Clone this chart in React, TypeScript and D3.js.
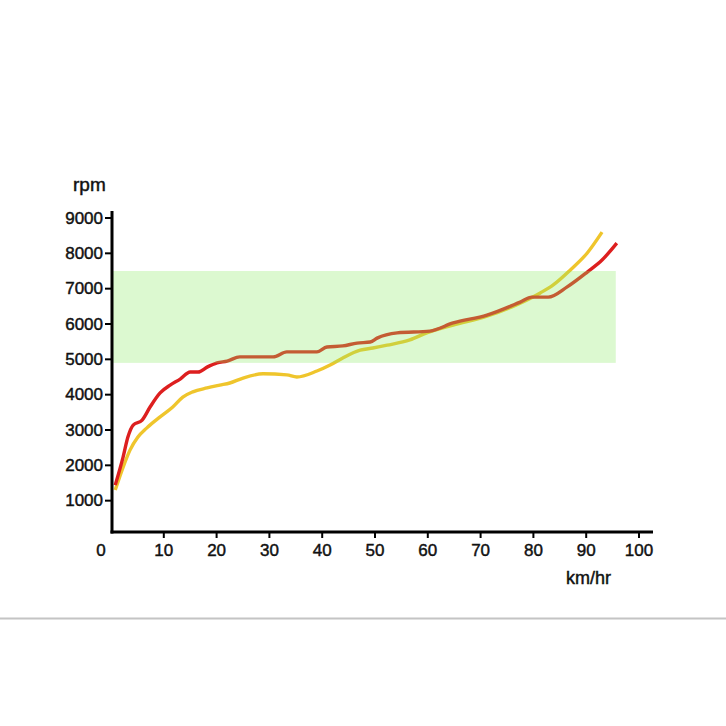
import React from "react";
import * as d3 from "d3";

const xTicks = [0, 10, 20, 30, 40, 50, 60, 70, 80, 90, 100];
const yTicks = [1000, 2000, 3000, 4000, 5000, 6000, 7000, 8000, 9000];

const redSpeed = [0.8, 2.3, 3.2, 4.2, 5.9, 7.4, 9.3, 11.2, 13.1, 15.0, 16.5, 18.2, 20.1, 22.0, 24.4, 30.7, 33.3, 39.0, 40.9, 43.9, 46.6, 49.1, 50.4, 54.2, 60.4, 64.8, 71.2, 77.5, 79.7, 82.8, 86.4, 90.2, 93.0, 95.8];
const redRpm = [1440, 2240, 2800, 3140, 3280, 3650, 4050, 4270, 4440, 4640, 4640, 4780, 4900, 4950, 5070, 5070, 5210, 5210, 5350, 5380, 5460, 5490, 5600, 5750, 5800, 6030, 6250, 6620, 6760, 6760, 7050, 7470, 7810, 8290];

const yellowSpeed = [0.8, 2.3, 3.6, 5.1, 6.8, 9.3, 11.7, 13.6, 15.5, 18.2, 20.6, 22.5, 25.0, 28.8, 33.3, 35.2, 39.0, 41.5, 43.9, 47.2, 49.6, 52.3, 56.6, 59.8, 64.8, 71.2, 77.5, 81.3, 83.7, 87.0, 90.2, 93.0];
const yellowRpm = [1300, 1950, 2430, 2800, 3060, 3370, 3650, 3930, 4080, 4190, 4270, 4330, 4470, 4590, 4560, 4500, 4670, 4840, 5040, 5260, 5320, 5400, 5550, 5750, 5970, 6220, 6590, 6880, 7100, 7530, 8010, 8600];

const bandLow = 4900;
const bandHigh = 7500;
const bandEnd = 95.6;

const font = "'Liberation Sans Narrow', 'Arial Narrow', 'Liberation Sans', sans-serif";

export default function App() {
  const x = d3.scaleLinear().domain([0, 100]).range([111, 639]);
  const y = d3.scaleLinear().domain([0, 9000]).range([536, 218]);
  const line = d3
    .line<[number, number]>()
    .x((d) => x(d[0]))
    .y((d) => y(d[1]))
    .curve(d3.curveMonotoneX);
  const red = redSpeed.map((s, i) => [s, redRpm[i]] as [number, number]);
  const yellow = yellowSpeed.map((s, i) => [s, yellowRpm[i]] as [number, number]);
  const axisY = 532;
  const axisX = 112;
  const textProps = {
    fontFamily: font,
    fill: "#111",
    stroke: "#111",
    strokeWidth: 0.45,
  };

  return (
    <svg
      width={726}
      height={726}
      style={{ position: "absolute", left: 0, top: 0, background: "#fff" }}
    >
      <rect x={0} y={0} width={726} height={726} fill="#fff" />
      <path d={line(yellow) || ""} fill="none" stroke="#efc52c" strokeWidth={3.4} strokeLinejoin="round" />
      <path d={line(red) || ""} fill="none" stroke="#dd1f1f" strokeWidth={3.4} strokeLinejoin="round" />
      <rect
        x={axisX}
        y={y(bandHigh)}
        width={x(bandEnd) - axisX}
        height={y(bandLow) - y(bandHigh)}
        fill="rgb(140,236,100)"
        opacity={0.3}
      />
      {/* y axis */}
      <line x1={axisX} x2={axisX} y1={211} y2={axisY + 1.5} stroke="#000" strokeWidth={3} />
      {yTicks.map((t) => (
        <g key={"y" + t}>
          <line x1={axisX - 7} x2={axisX} y1={y(t)} y2={y(t)} stroke="#000" strokeWidth={2} />
          <text x={103} y={y(t)} textAnchor="end" dominantBaseline="central" fontSize={17} {...textProps}>
            {t}
          </text>
        </g>
      ))}
      {/* x axis */}
      <line x1={axisX - 1.5} x2={653} y1={axisY} y2={axisY} stroke="#000" strokeWidth={3} />
      {xTicks.map((t) => (
        <g key={"x" + t}>
          {t > 0 && (
            <line x1={x(t)} x2={x(t)} y1={axisY} y2={axisY + 6} stroke="#000" strokeWidth={2} />
          )}
          <text x={t === 0 ? 101 : x(t)} y={556} textAnchor="middle" fontSize={17} {...textProps}>
            {t}
          </text>
        </g>
      ))}
      <text x={73} y={191} fontSize={19} {...textProps}>
        rpm
      </text>
      <text x={566} y={584} fontSize={18} {...textProps}>
        km/hr
      </text>
      <line x1={0} x2={726} y1={618.5} y2={618.5} stroke="#c4c4c4" strokeWidth={2} />
    </svg>
  );
}
